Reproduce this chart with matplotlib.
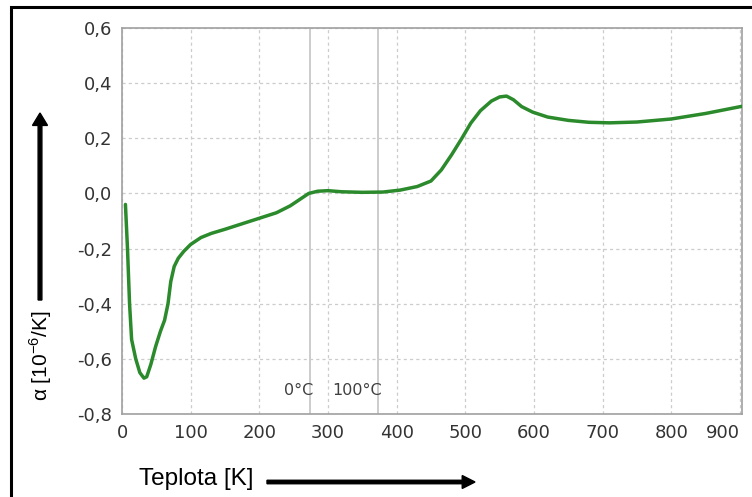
import matplotlib.pyplot as plt
from matplotlib.patches import Rectangle, FancyArrow

# data
teplota = [5, 8, 11, 14, 20, 26, 32, 36, 42, 49, 56, 62, 67, 71, 76, 82, 90, 100,
           115, 130, 150, 175, 200, 225, 245, 260, 272, 285, 300, 320, 350, 380,
           405, 430, 450, 465, 480, 495, 508, 522, 538, 550, 560, 570, 582, 598,
           620, 650, 680, 710, 750, 800, 850, 903]
alfa = [-0.04, -0.20, -0.40, -0.53, -0.60, -0.65, -0.67, -0.665, -0.62, -0.555,
        -0.50, -0.46, -0.40, -0.32, -0.265, -0.235, -0.21, -0.185, -0.16, -0.145,
        -0.13, -0.11, -0.09, -0.07, -0.045, -0.02, 0.0, 0.008, 0.01, 0.006, 0.004,
        0.005, 0.012, 0.025, 0.045, 0.085, 0.14, 0.20, 0.255, 0.30, 0.335, 0.35,
        0.353, 0.34, 0.315, 0.295, 0.277, 0.265, 0.258, 0.256, 0.259, 0.27, 0.29,
        0.316]
x_ticks = [0, 100, 200, 300, 400, 500, 600, 700, 800, 900]
y_ticks = [-0.8, -0.6, -0.4, -0.2, 0.0, 0.2, 0.4, 0.6]
y_labels = ['-0,8', '-0,6', '-0,4', '-0,2', '0,0', '0,2', '0,4', '0,6']
celsius_k = [273.15, 373.15]
celsius_txt = ['0°C', '100°C']

plt.rcParams['mathtext.fontset'] = 'custom'
plt.rcParams['mathtext.rm'] = 'Liberation Sans'

fig = plt.figure(figsize=(7.52, 4.97), dpi=100)
ax = fig.add_axes([122/752, 83/497, 620/752, 386/497])

ax.plot(teplota, alfa, color='#2b8a2b', lw=2.5, solid_capstyle='round',
        solid_joinstyle='round', zorder=3)

for k in celsius_k:
    ax.axvline(k, color='#c8c8c8', lw=1.3, zorder=1)
for k, t in zip(celsius_k, celsius_txt):
    ax.text(k + 6, -0.715, t, ha='right', va='center',
            fontsize=11.5, color='#404040', family='DejaVu Sans')

ax.set_xlim(0, 903)
ax.set_ylim(-0.8, 0.6)
ax.set_xticks(x_ticks)
ax.set_yticks(y_ticks)
ax.set_yticklabels(y_labels)
ax.grid(True, color='#cccccc', lw=0.9, linestyle=(0, (2.5, 2.5)))
ax.tick_params(length=0, labelsize=13, labelcolor='#333333', pad=7)
ax.get_xticklabels()[-1].set_ha('right')
for s in ax.spines.values():
    s.set_color('#a0a0a0')
    s.set_linewidth(1.2)

# outer black frame
fig.patches.append(Rectangle((11/752, -0.05), 1.0, (497 - 7)/497 + 0.05,
                             transform=fig.transFigure, fill=False,
                             ec='black', lw=2.2))

# axis labels with arrows
fig.text(41/752, 1 - 356/497, r'α [10$^{\mathrm{-6}}$/K]', rotation=90, ha='center',
         va='center', fontsize=15, family=['Liberation Sans', 'DejaVu Sans'])
fig.patches.append(FancyArrow(40/752, 1 - 300/497, 0, (300 - 113)/497 - 0.025,
                              width=0.005, head_width=0.02, head_length=0.025,
                              color='black', transform=fig.transFigure))
fig.text(196/752, 1 - 479/497, 'Teplota [K]', ha='center', va='center',
         fontsize=17.5, family='Liberation Sans')
fig.patches.append(FancyArrow(267/752, 1 - 482/497, (475 - 267)/752 - 0.017, 0,
                              width=0.007, head_width=0.026, head_length=0.017,
                              color='black', transform=fig.transFigure))

fig.savefig('out.png', dpi=100)
